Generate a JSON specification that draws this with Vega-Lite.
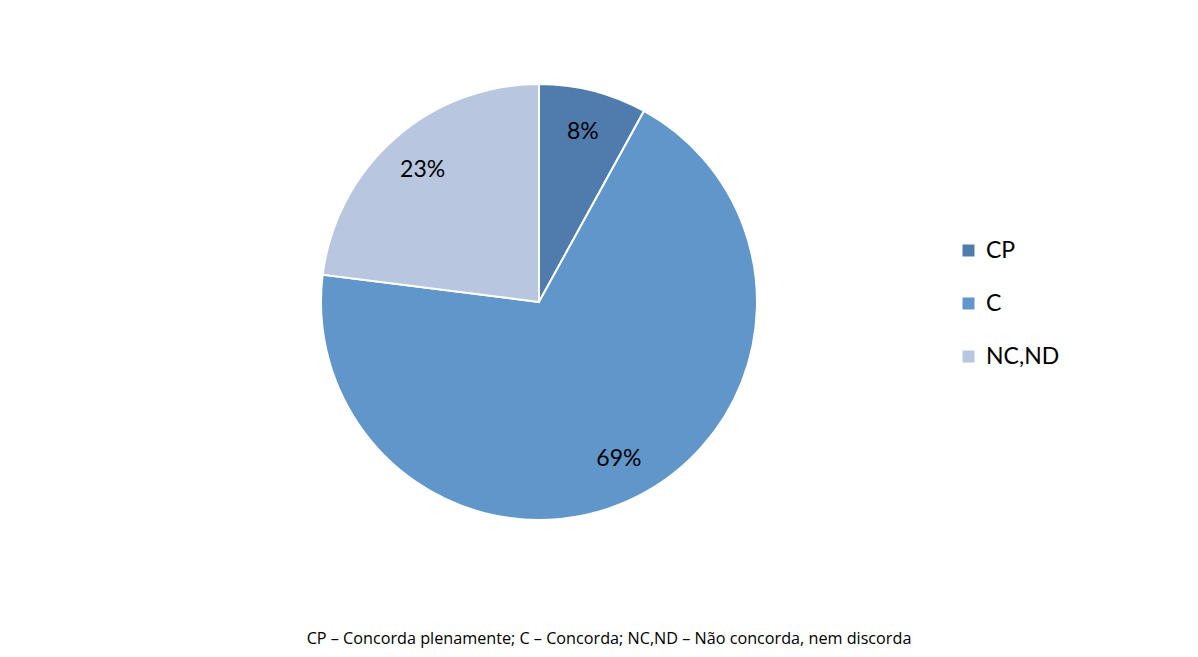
{
  "$schema": "https://vega.github.io/schema/vega-lite/v6.json",
  "width": 436,
  "height": 436,
  "autosize": {"type": "none"},
  "padding": {"left": 321, "top": 84, "right": 441, "bottom": 137},
  "background": "white",
  "config": {"view": {"stroke": null}, "font": "Lato"},
  "title": {
    "text": "CP – Concorda plenamente; C – Concorda; NC,ND – Não concorda, nem discorda",
    "orient": "bottom",
    "anchor": "middle",
    "dx": 70,
    "offset": 107,
    "fontSize": 16.2,
    "fontWeight": "normal",
    "color": "#000000",
    "font": "Open Sans"
  },
  "data": {
    "values": [
      {"categoria": "CP", "participacao": 0.08, "ordem": 1},
      {"categoria": "C", "participacao": 0.69, "ordem": 2},
      {"categoria": "NC,ND", "participacao": 0.23, "ordem": 3}
    ]
  },
  "encoding": {
    "theta": {"field": "participacao", "type": "quantitative", "stack": true},
    "order": {"field": "ordem", "type": "quantitative"}
  },
  "layer": [
    {
      "mark": {"type": "arc", "stroke": "white", "strokeWidth": 2},
      "encoding": {
        "color": {
          "field": "categoria",
          "type": "nominal",
          "sort": ["CP", "C", "NC,ND"],
          "scale": {"domain": ["CP", "C", "NC,ND"], "range": ["#4f7cad", "#6096ca", "#b9c6e0"]},
          "legend": {
            "title": null,
            "orient": "none",
            "legendX": 636,
            "legendY": 155,
            "padding": 0,
            "symbolType": "square",
            "symbolSize": 144,
            "symbolStrokeWidth": 0,
            "labelFontSize": 23,
            "labelFont": "Lato",
            "labelColor": "#000000",
            "labelOffset": 6,
            "rowPadding": 29,
            "labelLimit": 300
          }
        }
      }
    },
    {
      "mark": {"type": "text", "radius": 176, "fontSize": 23, "font": "Lato", "color": "#000000"},
      "encoding": {
        "text": {"field": "participacao", "type": "quantitative", "format": ".0%"}
      }
    }
  ]
}
